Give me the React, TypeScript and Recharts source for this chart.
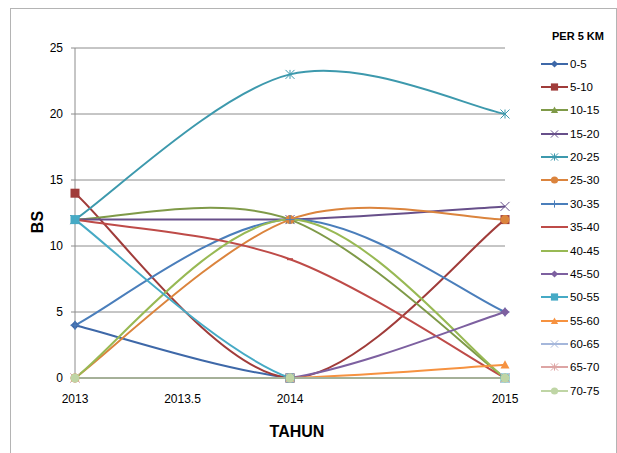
import React from "react";
import { CartesianGrid, Legend, Line, LineChart, XAxis, YAxis } from "recharts";

// tahun pengamatan
const years = [2013, 2014, 2015];
const xTicks = [2013, 2013.5, 2014, 2015];
const yTicks = [0, 5, 10, 15, 20, 25];

// nilai BS per 5 km (2013, 2014, 2015)
const bs0_5 = [4, 0, 0];
const bs5_10 = [14, 0, 12];
const bs10_15 = [12, 12, 0];
const bs15_20 = [12, 12, 13];
const bs20_25 = [12, 23, 20];
const bs25_30 = [0, 12, 12];
const bs30_35 = [4, 12, 5];
const bs35_40 = [12, 9, 0];
const bs40_45 = [0, 12, 0];
const bs45_50 = [0, 0, 5];
const bs50_55 = [12, 0, 0];
const bs55_60 = [0, 0, 1];
const bs60_65 = [0, 0, 0];
const bs65_70 = [0, 0, 0];
const bs70_75 = [0, 0, 0];

type Shape = "diamond" | "square" | "triangle" | "x" | "star" | "circle" | "plus" | "dash" | "none";

const series: { name: string; values: number[]; color: string; shape: Shape }[] = [
  { name: "0-5", values: bs0_5, color: "#3E68A8", shape: "diamond" },
  { name: "5-10", values: bs5_10, color: "#A03C3A", shape: "square" },
  { name: "10-15", values: bs10_15, color: "#7F9A48", shape: "triangle" },
  { name: "15-20", values: bs15_20, color: "#674F8A", shape: "x" },
  { name: "20-25", values: bs20_25, color: "#3D99AD", shape: "star" },
  { name: "25-30", values: bs25_30, color: "#DB843D", shape: "circle" },
  { name: "30-35", values: bs30_35, color: "#4A7EBB", shape: "plus" },
  { name: "35-40", values: bs35_40, color: "#BE4B48", shape: "dash" },
  { name: "40-45", values: bs40_45, color: "#98B954", shape: "none" },
  { name: "45-50", values: bs45_50, color: "#7D60A0", shape: "diamond" },
  { name: "50-55", values: bs50_55, color: "#46AAC5", shape: "square" },
  { name: "55-60", values: bs55_60, color: "#F69240", shape: "triangle" },
  { name: "60-65", values: bs60_65, color: "#A5B7DB", shape: "x" },
  { name: "65-70", values: bs65_70, color: "#DDA5A4", shape: "star" },
  { name: "70-75", values: bs70_75, color: "#BFD5A5", shape: "circle" },
];

const data = years.map((year, i) => {
  const row: Record<string, number> = { year };
  series.forEach((s) => (row[s.name] = s.values[i]));
  return row;
});

// excel-style smoothed line (catmull-rom as bezier); control points are
// kept above the lowest point so the curve doesn't dip under the x axis
function excelCurve(context: any) {
  let pts: number[][] = [];
  return {
    areaStart() {},
    areaEnd() {},
    lineStart() {
      pts = [];
    },
    point(x: number, y: number) {
      pts.push([+x, +y]);
    },
    lineEnd() {
      if (!pts.length) return;
      const floor = Math.max(...pts.map((p) => p[1]));
      const cy = (v: number) => Math.min(v, floor);
      context.moveTo(pts[0][0], pts[0][1]);
      for (let i = 0; i < pts.length - 1; i++) {
        const p0 = pts[i - 1] || pts[i];
        const p1 = pts[i];
        const p2 = pts[i + 1];
        const p3 = pts[i + 2] || pts[i + 1];
        context.bezierCurveTo(
          p1[0] + (p2[0] - p0[0]) / 6,
          cy(p1[1] + (p2[1] - p0[1]) / 6),
          p2[0] - (p3[0] - p1[0]) / 6,
          cy(p2[1] - (p3[1] - p1[1]) / 6),
          p2[0],
          p2[1]
        );
      }
    },
  };
}

function Marker({ shape, x, y, color, s = 1 }: { shape: Shape; x: number; y: number; color: string; s?: number }) {
  const r = 4.5 * s;
  switch (shape) {
    case "diamond":
      return <polygon points={`${x},${y - r} ${x + r},${y} ${x},${y + r} ${x - r},${y}`} fill={color} />;
    case "square":
      return <rect x={x - r} y={y - r} width={2 * r} height={2 * r} fill={color} />;
    case "triangle":
      return <polygon points={`${x},${y - r} ${x + r},${y + r * 0.8} ${x - r},${y + r * 0.8}`} fill={color} />;
    case "circle":
      return <circle cx={x} cy={y} r={r} fill={color} />;
    case "x":
      return (
        <path d={`M${x - r},${y - r}L${x + r},${y + r}M${x - r},${y + r}L${x + r},${y - r}`} stroke={color} strokeWidth={1} />
      );
    case "star":
      return (
        <path
          d={`M${x - r},${y - r}L${x + r},${y + r}M${x - r},${y + r}L${x + r},${y - r}M${x},${y - r}L${x},${y + r}`}
          stroke={color}
          strokeWidth={1}
        />
      );
    case "plus":
      return <path d={`M${x - r},${y}L${x + r},${y}M${x},${y - r}L${x},${y + r}`} stroke={color} strokeWidth={1} />;
    case "dash":
      return <path d={`M${x - 3 * s},${y}L${x + 3 * s},${y}`} stroke={color} strokeWidth={2} />;
    default:
      return null;
  }
}

const font = "'Liberation Sans', Arial, sans-serif";

function renderLegend() {
  return (
    <div style={{ fontFamily: font, color: "#000" }}>
      <div style={{ fontSize: 11, fontWeight: "bold", marginLeft: 11, height: 24, lineHeight: "16px" }}>PER 5 KM</div>
      {series.map((s) => (
        <div key={s.name} style={{ display: "flex", alignItems: "center", height: 23.36 }}>
          <svg width={29} height={12} style={{ display: "block" }}>
            <line x1={0} y1={6} x2={27} y2={6} stroke={s.color} strokeWidth={2} />
            <Marker shape={s.shape} x={13.5} y={6} color={s.color} s={0.8} />
          </svg>
          <span style={{ fontSize: 11.5 }}>{s.name}</span>
        </div>
      ))}
    </div>
  );
}

export default function App() {
  return (
    <div style={{ position: "absolute", left: 0, top: 0, width: 617, height: 453, background: "#fff", overflow: "hidden" }}>
      <div
        style={{
          position: "absolute",
          left: 10,
          top: 8,
          width: 605,
          height: 470,
          border: "1px solid #b4b4b4",
        }}
      />
      <LineChart
        width={617}
        height={453}
        data={data}
        margin={{ top: 48, right: 112, bottom: 45, left: 0 }}
        style={{ position: "absolute", left: 0, top: 0 }}
      >
        <CartesianGrid stroke="#8c8c8c" vertical={false} />
        <XAxis
          dataKey="year"
          type="number"
          domain={[2013, 2015]}
          ticks={xTicks}
          interval={0}
          height={30}
          stroke="#8c8c8c"
          tickLine={false}
          tickSize={4}
          tickMargin={12}
          tick={{ fill: "#000", fontSize: 12, fontFamily: font }}
          label={(p: any) => (
            <text
              x={p.viewBox.x + p.viewBox.width / 2 + 7}
              y={437}
              textAnchor="middle"
              fontSize={16}
              fontWeight="bold"
              fontFamily={font}
              fill="#000"
            >
              TAHUN
            </text>
          )}
        />
        <YAxis
          width={75}
          domain={[0, 25]}
          ticks={yTicks}
          interval={0}
          stroke="#8c8c8c"
          tickSize={4}
          tickMargin={8}
          tick={{ fill: "#000", fontSize: 12, fontFamily: font }}
          label={(p: any) => {
            const cx = 37;
            const cy = p.viewBox.y + p.viewBox.height / 2 + 9;
            return (
              <text
                x={cx}
                y={cy}
                transform={`rotate(-90 ${cx} ${cy})`}
                textAnchor="middle"
                dominantBaseline="central"
                fontSize={16}
                fontWeight="bold"
                fontFamily={font}
                fill="#000"
              >
                BS
              </text>
            );
          }}
        />
        <Legend
          layout="vertical"
          align="center"
          verticalAlign="middle"
          content={renderLegend}
          wrapperStyle={{ left: 541, top: 28, width: 76 }}
        />
        {series.map((s) => (
          <Line
            key={s.name}
            dataKey={s.name}
            name={s.name}
            type={excelCurve as any}
            stroke={s.color}
            strokeWidth={2}
            isAnimationActive={false}
            activeDot={false}
            dot={(p: any) => <Marker key={`${s.name}-${p.index}`} shape={s.shape} x={p.cx} y={p.cy} color={s.color} />}
          />
        ))}
      </LineChart>
    </div>
  );
}
